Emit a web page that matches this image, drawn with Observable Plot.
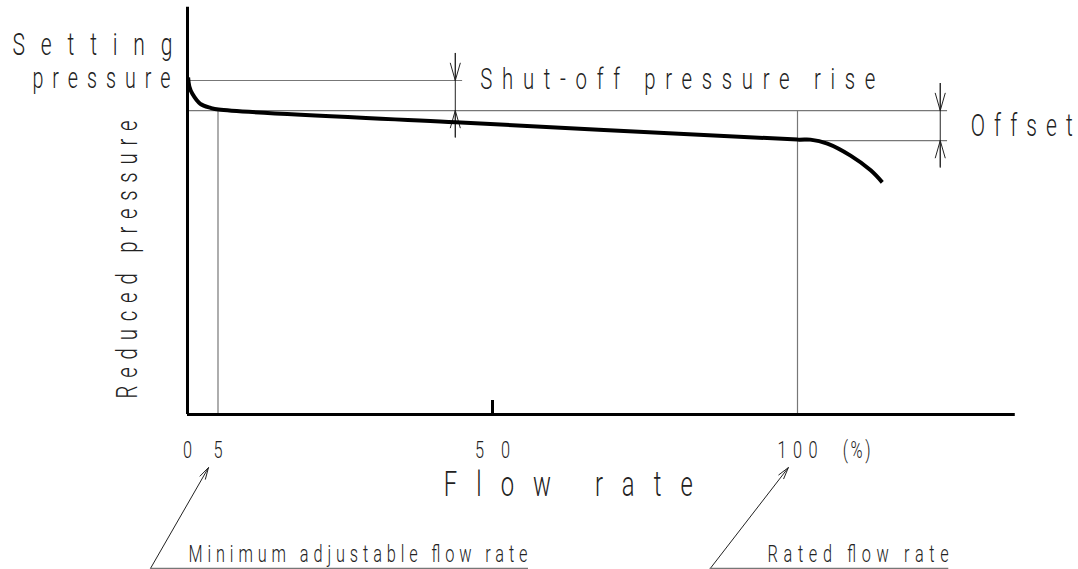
<!DOCTYPE html>
<html><head><meta charset="utf-8">
<script src="https://cdn.jsdelivr.net/npm/d3@7"></script>
<script src="https://cdn.jsdelivr.net/npm/@observablehq/plot@0.6"></script>
<style>
html,body{margin:0;padding:0;background:#fff;overflow:hidden}
</style></head><body><div id="chart"></div>
<script>
// Characteristic curve: flow rate (% of rated) vs reduced pressure (% of setting pressure)
const flowRate =        [0.1,   0.3,  0.8,  2.1,  3.8,  5.1,  44,   100,  102.1, 104.9, 108.7, 112,  113.9];
const reducedPressure = [100.9, 98.2, 96.0, 93.0, 91.8, 91.3, 87.5, 82.3, 82.3,  81.1,  77.5,  73.1, 69.5];
const settingPressure = 100;
const pressureAtMin = 91;
const pressureAtRated = 82;
const minFlow = 5;
const ratedFlow = 100;
const tickValues = [0, 5, 50, 100];
const tickLabels = ["0", "5", "50", "100"];

const curve = flowRate.map((x, i) => ({x, y: reducedPressure[i]}));
const grey = "#777";
const ink = "#222";
const font = "Roboto";
const one = [0];
const txt = (s, o) => Plot.text([s], {fontFamily: font, fontWeight: 300, fill: ink, lineAnchor: "bottom", ...o});

const svg = Plot.plot({
  width: 1078, height: 569,
  marginLeft: 187, marginRight: 281, marginTop: 80, marginBottom: 155,
  x: {domain: [0, 100], axis: null},
  y: {domain: [0, 100], axis: null},
  style: {background: "#fff", overflow: "visible"},
  marks: [
    // reference lines
    Plot.ruleY([settingPressure], {x1: 0, x2: 45.1, stroke: grey, strokeWidth: 1.2}),
    Plot.ruleY([pressureAtMin], {x1: 0, x2: 124.6, stroke: grey, strokeWidth: 1.2}),
    Plot.ruleY([pressureAtRated], {x1: ratedFlow, x2: 124.6, stroke: grey, strokeWidth: 1.2}),
    Plot.ruleX([minFlow], {y1: 0, y2: pressureAtMin, stroke: grey, strokeWidth: 1.2}),
    Plot.ruleX([ratedFlow], {y1: 0, y2: pressureAtMin, stroke: grey, strokeWidth: 1.2}),
    // dimension: shut-off pressure rise
    Plot.ruleX([43.9], {y1: 82.9, y2: 108.1, stroke: ink, strokeWidth: 1}),
    Plot.arrow(one, {x1: 43.9, y1: 116.2, x2: 43.9, y2: settingPressure, insetStart: 27, headAngle: 32, headLength: 27, stroke: ink, strokeWidth: 1}),
    Plot.arrow(one, {x1: 43.9, y1: 74.9, x2: 43.9, y2: pressureAtMin, insetStart: 27, headAngle: 32, headLength: 27, stroke: ink, strokeWidth: 1}),
    // dimension: offset
    Plot.ruleX([123.4], {y1: 74.0, y2: 99.1, stroke: ink, strokeWidth: 1}),
    Plot.arrow(one, {x1: 123.4, y1: 107.2, x2: 123.4, y2: pressureAtMin, insetStart: 27, headAngle: 32, headLength: 27, stroke: ink, strokeWidth: 1}),
    Plot.arrow(one, {x1: 123.4, y1: 65.9, x2: 123.4, y2: pressureAtRated, insetStart: 27, headAngle: 32, headLength: 27, stroke: ink, strokeWidth: 1}),
    // axes
    Plot.ruleY([0], {x1: 0, x2: 135.7, stroke: "#000", strokeWidth: 3}),
    Plot.ruleX([0], {y1: 0, y2: 121.9, stroke: "#000", strokeWidth: 3}),
    Plot.ruleX([50], {y1: 0, y2: 4.2, stroke: "#000", strokeWidth: 3}),
    // curve
    Plot.line(curve, {x: "x", y: "y", curve: "catmull-rom", stroke: "#000", strokeWidth: 4, strokeLinecap: "butt"}),
    // tick labels
    Plot.text(tickLabels, {x: tickValues, y: -12.9, text: d => d, fontFamily: font, fontWeight: 300, fontSize: 24, fill: ink, lineAnchor: "bottom", textAnchor: "middle"}),
    txt("(%)", {x: 109.7, y: -12.9, fontSize: 24, textAnchor: "middle"}),
    // labels
    txt("Setting", {x: -2.46, y: 107.5, fontSize: 31, textAnchor: "end"}),
    txt("pressure", {x: -2.8, y: 97.9, fontSize: 29, textAnchor: "end"}),
    txt("Shut-off pressure rise", {x: 48.0, y: 97.6, fontSize: 30, textAnchor: "start"}),
    txt("Offset", {x: 128.4, y: 83.5, fontSize: 31, textAnchor: "start"}),
    txt("Reduced pressure", {x: -8.2, y: 4.8, fontSize: 30, rotate: -90, textAnchor: "start"}),
    txt("Flow rate", {x: 42.0, y: -24.3, fontSize: 35, textAnchor: "start"}),
    txt("Minimum adjustable flow rate", {x: 0.16, y: -44.3, fontSize: 24, textAnchor: "start"}),
    txt("Rated flow rate", {x: 95.1, y: -44.3, fontSize: 24, textAnchor: "start"}),
    // leader arrows
    Plot.arrow(one, {x1: -6.07, y1: -46.1, x2: 3.44, y2: -15.9, headAngle: 30, headLength: 18, stroke: ink, strokeWidth: 1}),
    Plot.ruleY([-46.1], {x1: -6.07, x2: 55.9, stroke: grey, strokeWidth: 1.2}),
    Plot.arrow(one, {x1: 85.7, y1: -46.1, x2: 98.5, y2: -15.9, headAngle: 30, headLength: 18, stroke: ink, strokeWidth: 1}),
    Plot.ruleY([-46.1], {x1: 85.7, x2: 124.8, stroke: grey, strokeWidth: 1.2})
  ]
});

// narrow, widely spaced lettering like the drawing's CAD font
const sx = 0.68;
const spans = {"Setting": 160, "pressure": 138, "Shut-off pressure rise": 395, "Offset": 102,
  "Reduced pressure": 278, "Flow rate": 249, "Minimum adjustable flow rate": 339,
  "Rated flow rate": 181, "100": 40, "50": 35, "(%)": 28};
d3.select(svg).selectAll("text").each(function() {
  let t = this.getAttribute("transform");
  if (!t) {
    const x = this.getAttribute("x") || 0, y = this.getAttribute("y") || 0;
    this.removeAttribute("x"); this.removeAttribute("y");
    t = `translate(${x},${y})`;
  }
  this.setAttribute("transform", `${t} scale(${sx},1)`);
  const w = spans[this.textContent];
  if (w) { this.setAttribute("textLength", w / sx); this.setAttribute("lengthAdjust", "spacing"); }
});
document.getElementById("chart").appendChild(svg);
</script></body></html>
